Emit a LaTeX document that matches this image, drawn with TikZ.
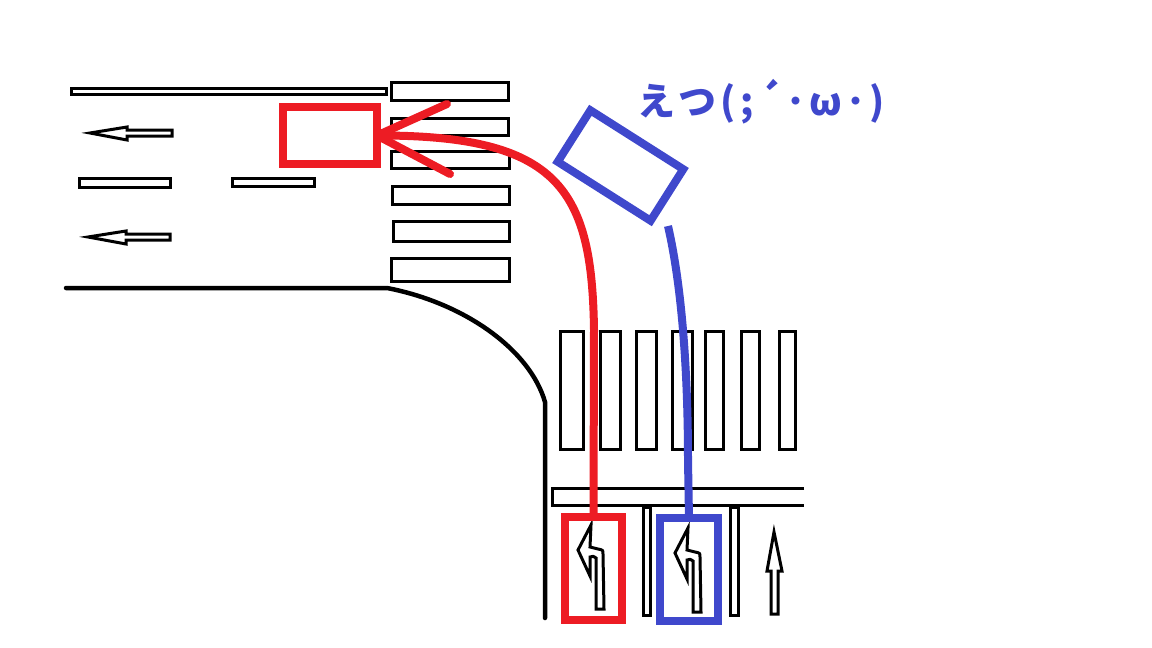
\documentclass[tikz,border=0pt]{standalone}
\usepackage{fontspec}
\newfontfamily\cjkfont[LetterSpace=11]{Noto Sans CJK JP}
\usetikzlibrary{positioning}
\definecolor{carred}{HTML}{ED1C24}
\definecolor{carblue}{HTML}{3F48CC}
\tikzset{
    paint/.style={
           draw=black,
           line width=3pt,
           fill=white,
           },
}
\tikzset{
    roadedge/.style={
           draw=black,
           line width=4.5pt,
           line cap=round,
           },
}
\tikzset{
    carbox/.style={
           rectangle,
           line width=8pt,
           inner sep=0pt,
           outer sep=0pt,
           },
}
\tikzset{
    route/.style={
           line width=8pt,
           line join=round,
           },
}
\newcommand{\turnarrow}[2]{
\draw[paint,shift={(#1,#2)}] (591,525) -- (578,550) -- (590,576) -- (590,557) .. controls (593,556) .. (596,558) -- (596,609) -- (604,609) -- (603,554) .. controls (603,550) .. (598,549) -- (590,547) -- cycle;
}

\begin{document}
\begin{tikzpicture}[x=1pt,y=-1pt]
\useasboundingbox (0,0) rectangle (1152,648);
% road
\draw[roadedge] (66,288) -- (387,288) .. controls (465,303) and (530,350) .. (545,402) -- (545,618);
\draw[paint] (71,88) rectangle (386,94);
\draw[paint] (79,178) rectangle (170,187);
\draw[paint] (232,178) rectangle (314,186);
\draw[paint] (90,133) -- (127,127) -- (127,130) -- (172,130) -- (172,136) -- (127,136) -- (127,140) -- cycle;
\draw[paint] (88,237) -- (126,231) -- (126,234) -- (170,234) -- (170,240) -- (126,240) -- (126,244) -- cycle;
% crossings
\foreach \xa/\xb/\ya/\yb in {391/508/82/100,391/508/118/135,391/509/151/168,392/509/186/204,393/509/221/241,391/509/258/281}
    \draw[paint] (\xa,\ya) rectangle (\xb,\yb);
\foreach \xa/\xb in {560/583,600/620,636/656,672/692,705/723,741/759,779/795}
    \draw[paint] (\xa,331) rectangle (\xb,449);
\draw[paint] (804,488) -- (552,488) -- (552,505) -- (804,505);
\draw[paint] (643,507) rectangle (650,615);
\draw[paint] (730,507) rectangle (738,615);
\draw[paint] (774,532) -- (767,571) -- (771,571) -- (771,614) -- (778,614) -- (778,571) -- (782,571) -- cycle;
\turnarrow{0}{0}
\turnarrow{97}{3}
% cars
\node[carbox,draw=carred,minimum width=57pt,minimum height=103pt](startred) at (593.5,568.5){};
\node[carbox,draw=carblue,minimum width=58pt,minimum height=103pt](startblue) at (689,569.5){};
\node[carbox,draw=carred,minimum width=94pt,minimum height=57pt](stopred) at (330,135.5){};
\node[carbox,draw=carblue,minimum width=110pt,minimum height=61pt,rotate=-32.4](stopblue) at (620.5,165.5){};
\node[text=carblue,font=\cjkfont\bfseries\fontsize{38}{40}\selectfont,inner sep=0pt](oops) at (761,102){えつ(;´･ω･)};
% routes
\coordinate (tipup) at (447,104);
\coordinate (tipdown) at (450,174);
\coordinate (blueend) at (668,226);
\draw[route,carred] (startred.north) -- (594,330) .. controls (592,190) and (560,135) .. (stopred.east);
\draw[route,carred,line cap=round] (tipup) -- (stopred.east) -- (tipdown);
\draw[route,carblue] (startblue.north) -- (688,460) .. controls (688,400) and (685,300) .. (blueend);
\end{tikzpicture}
\end{document}
